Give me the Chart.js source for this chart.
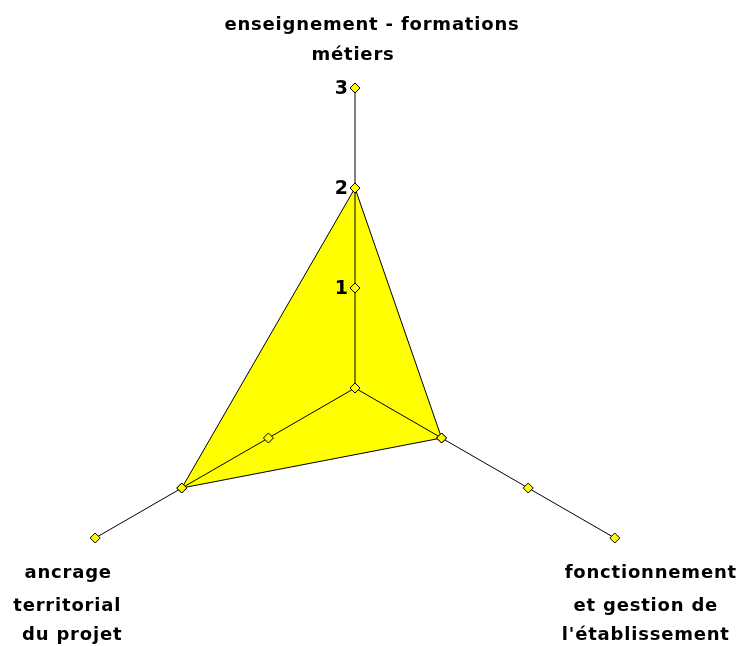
<!DOCTYPE html>
<html>
<head>
<meta charset="utf-8">
<script src="https://cdn.jsdelivr.net/npm/chart.js@4"></script>
<style>
  html, body { margin: 0; padding: 0; background: #fff; overflow: hidden; }
  #wrap { width: 741px; height: 646px; overflow: hidden; }
</style>
</head>
<body>
<div id="wrap"><canvas id="radar" width="741" height="700"></canvas></div>
<script>
const categories = [
  ["enseignement - formations", "métiers"],
  ["fonctionnement", "et gestion de", "l'établissement"],
  ["ancrage", "territorial", "du projet"],
];
const scores = [2, 1, 2];
const tickValues = [0, 1, 2, 3];
const tickLabels = ["1", "2", "3"];

const yellow = "#FFFF00";
const font = "bold 18px 'DejaVu Sans'";

// where each label block sits relative to the end of its axis
const labelOffsets = [
  { lines: [[17, -63], [-2, -33]] },
  { lines: [[36, 35], [31, 68], [31, 97]] },
  { lines: [[-27, 35], [-28, 68], [-23, 97]] },
];

const labelsPlugin = {
  id: "axisText",
  afterDraw(chart) {
    const scale = chart.scales.r;
    const ctx = chart.ctx;
    ctx.save();
    ctx.font = font;
    ctx.letterSpacing = "0.8px";
    ctx.fillStyle = "#000";
    ctx.textAlign = "center";
    ctx.textBaseline = "middle";
    const outer = scale.getDistanceFromCenterForValue(scale.max);
    categories.forEach((lines, i) => {
      const p = scale.getPointPosition(i, outer);
      lines.forEach((txt, j) => {
        const [dx, dy] = labelOffsets[i].lines[j];
        ctx.fillText(txt, p.x + dx, p.y + dy);
      });
    });
    // tick numbers to the left of the first axis
    ctx.letterSpacing = "0px";
    ctx.font = "bold 19px 'DejaVu Sans'";
    ctx.textAlign = "right";
    tickLabels.forEach((t, k) => {
      const p = scale.getPointPosition(0, scale.getDistanceFromCenterForValue(k + 1));
      ctx.fillText(t, p.x - 7, p.y + 1);
    });
    ctx.restore();
  },
};

const markerSets = tickValues.map((v) => ({
  data: categories.map(() => v),
  fill: false,
  showLine: false,
  borderWidth: 0,
  backgroundColor: "transparent",
  pointStyle: "rectRot",
  pointRadius: 5,
  pointBackgroundColor: yellow,
  pointBorderColor: "#000",
  pointBorderWidth: 1,
}));

new Chart(document.getElementById("radar"), {
  type: "radar",
  data: {
    labels: categories,
    datasets: [
      ...markerSets,
      {
        data: scores,
        fill: true,
        backgroundColor: yellow,
        borderColor: "#000",
        borderWidth: 1,
        pointStyle: "rectRot",
        pointRadius: 5,
        pointBackgroundColor: yellow,
        pointBorderColor: "#000",
        pointBorderWidth: 1,
      },
    ],
  },
  options: {
    responsive: false,
    animation: false,
    events: [],
    layout: { padding: { left: 55, top: 88, right: 86, bottom: 12 } },
    plugins: {
      legend: { display: false },
      tooltip: { enabled: false },
      filler: { drawTime: "beforeDraw" },
    },
    scales: {
      r: {
        min: 0,
        max: 3,
        ticks: { display: false, stepSize: 1 },
        grid: { display: false },
        angleLines: { display: true, color: "#000", lineWidth: 1 },
        pointLabels: { display: false },
      },
    },
  },
  plugins: [labelsPlugin],
});
</script>
</body>
</html>
